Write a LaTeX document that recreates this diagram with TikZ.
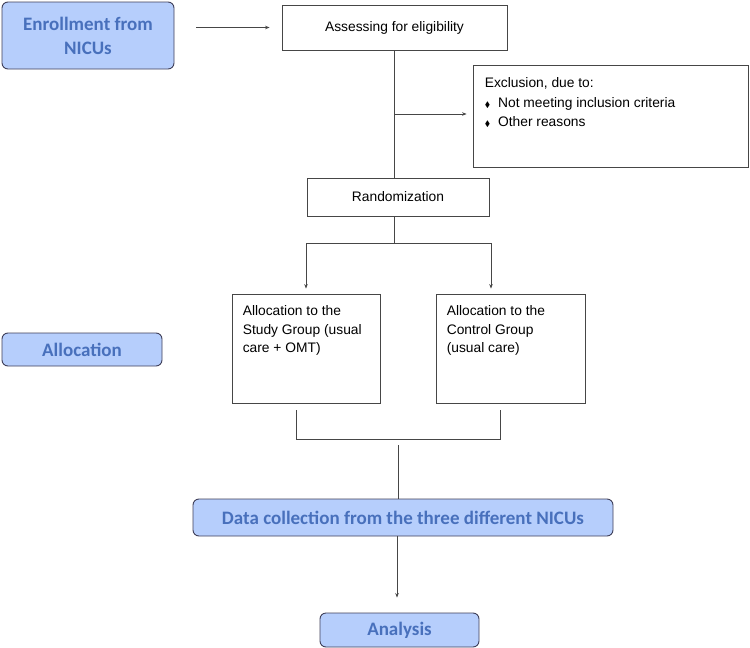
\documentclass[tikz,border=0pt]{standalone}
\usepackage{fontspec}
\usepackage{amssymb}
\setmainfont{Liberation Sans}
\newfontfamily\calfont{Carlito}
\usetikzlibrary{calc}
\usetikzlibrary{positioning}
\usetikzlibrary{arrows.meta}

\definecolor{stagefill}{RGB}{182,206,252}
\definecolor{stagetext}{RGB}{72,112,188}
\definecolor{edge}{RGB}{70,70,70}

\newcommand{\bul}{{\footnotesize$\blacklozenge$}}

\tikzset{
  stage/.style={draw=edge!90!blue, line width=0.9pt, fill=stagefill,
    rounded corners=6pt, text=stagetext, font=\calfont\bfseries\fontsize{19}{24}\selectfont,
    align=center, inner sep=0pt},
  plainbox/.style={draw=edge, line width=0.8pt, inner sep=0pt},
  boxtext/.style={font=\fontsize{13.8}{19.5}\selectfont, align=left, inner sep=0pt},
  link/.style={draw=edge, line width=0.8pt},
}

\begin{document}
\begin{tikzpicture}[%
  x=1pt, y=-1pt,
  >={Stealth[length=4.5pt,width=3.5pt]},
]

  \useasboundingbox (0,0) rectangle (750,648);

  % stages
  \node[stage, minimum width=172pt, minimum height=67pt] (enroll) at (88,35.5)
    {Enrollment from\\NICUs};
  \node[stage, minimum width=160pt, minimum height=33pt] (alloc) at (82,349.5)
    {Allocation};
  \node[stage, minimum width=420pt, minimum height=37pt] (collect) at (403,517.5)
    {Data collection from the three different NICUs};
  \node[stage, minimum width=159pt, minimum height=34pt] (analysis) at (399.5,630)
    {Analysis};

  % boxes
  \node[plainbox, minimum width=225pt, minimum height=45pt,
    font=\fontsize{13.8}{16}\selectfont] (assess) at (394.5,27.5)
    {Assessing for eligibility};
  \node[plainbox, minimum width=275pt, minimum height=102pt] (excl) at (610.5,116) {};
  \node[boxtext, anchor=north west] (excltext) at ([xshift=12pt,yshift=-13pt]excl.north west)
    {Exclusion, due to:\\
     \bul\hspace{8pt}Not meeting inclusion criteria\\
     \bul\hspace{8pt}Other reasons};
  \node[plainbox, minimum width=182pt, minimum height=38pt,
    font=\fontsize{13.8}{16}\selectfont] (random) at (398,197)
    {Randomization};
  \node[plainbox, minimum width=148pt, minimum height=109pt] (study) at (306,348.5) {};
  \node[boxtext, anchor=north west, font=\fontsize{13.8}{18.5}\selectfont] (studytext)
    at ([xshift=11pt,yshift=-12pt]study.north west)
    {Allocation to the\\Study Group (usual\\care + OMT)};
  \node[plainbox, minimum width=149pt, minimum height=109pt] (control) at (510.5,348.5) {};
  \node[boxtext, anchor=north west, font=\fontsize{13.8}{18.5}\selectfont] (controltext)
    at ([xshift=11pt,yshift=-12pt]control.north west)
    {Allocation to the\\Control Group\\(usual care)};

  % helper points
  \coordinate (enrollout) at (196,27.5);
  \coordinate (split) at (394,114);
  \coordinate (fork) at (394,243);
  \coordinate (forkR) at (491,243);
  \coordinate (joinL) at (296,410);
  \coordinate (joinR) at (500,410);
  \coordinate (merge) at (398,445);
  \coordinate (down) at (397,0);

  % connectors
  \draw[link,->] (enrollout) -- ([xshift=-12pt]assess.west);

  \draw[link] (assess.south -| split) -- (random.north -| split);
  \draw[link,->] (split) -- ([xshift=-6pt]excl.west |- split);

  \draw[link] (random.south -| fork) -- (fork);
  \draw[link,->] (study.north |- fork) -- ([yshift=5pt]study.north);
  \draw[link] (study.north |- fork) -- (forkR);
  \draw[link,->] (forkR) -- ([yshift=5pt]control.north -| forkR);

  \draw[link] (joinL) -- ++(0,29) -| (joinR);

  \draw[link] (merge) -- (collect.north -| merge);
  \draw[link,->] (collect.south -| down) -- ([yshift=15pt]analysis.north -| down);

\end{tikzpicture}
\end{document}
